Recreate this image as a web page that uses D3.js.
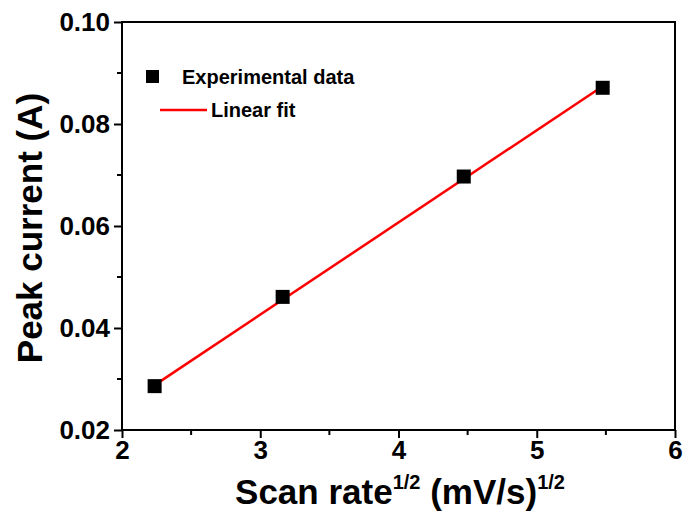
<!DOCTYPE html>
<html lang="en">
<head>
    <meta charset="UTF-8">
    <title>Peak current vs scan rate</title>
    <script src="https://d3js.org/d3.v7.min.js"></script>
    <style type="text/css">
        body { margin: 0; background: #fff; }
        text { font-family: "Liberation Sans", Arial, sans-serif; font-weight: bold; }
    </style>
</head>
<body>
<script type="text/javascript">

// Data
var scanRateSqrt = [2.236, 3.162, 4.472, 5.477];
var peakCurrent = [0.0286, 0.0461, 0.0697, 0.0871];
var fitX = [2.236, 5.477];
var fitY = [0.0288, 0.0874];
var xTicks = [2, 3, 4, 5, 6];
var yTicks = [0.02, 0.04, 0.06, 0.08, 0.10];
var xMinor = [2.5, 3.5, 4.5, 5.5];
var yMinor = [0.03, 0.05, 0.07, 0.09];

var w = 684, h = 517;
var padL = 122, padR = 675, padT = 22, padB = 430;

var svg = d3.select("body").append("svg")
    .attr("width", w)
    .attr("height", h);

var xScale = d3.scaleLinear().domain([2, 6]).range([padL, padR]);
var yScale = d3.scaleLinear().domain([0.02, 0.10]).range([padB, padT]);

// frame
svg.append("rect")
    .attr("x", padL).attr("y", padT)
    .attr("width", padR - padL).attr("height", padB - padT)
    .attr("fill", "none").attr("stroke", "#000").attr("stroke-width", 2);

// minor ticks
svg.append("g").selectAll("line").data(xMinor).enter().append("line")
    .attr("x1", function(d) { return xScale(d); })
    .attr("x2", function(d) { return xScale(d); })
    .attr("y1", padB).attr("y2", padB + 5)
    .attr("stroke", "#000").attr("stroke-width", 2);
svg.append("g").selectAll("line").data(yMinor).enter().append("line")
    .attr("y1", function(d) { return yScale(d); })
    .attr("y2", function(d) { return yScale(d); })
    .attr("x1", padL).attr("x2", padL - 5)
    .attr("stroke", "#000").attr("stroke-width", 2);

// axes
var xAxis = d3.axisBottom(xScale).tickValues(xTicks).tickSize(8).tickPadding(3)
    .tickFormat(d3.format("d"));
var yAxis = d3.axisLeft(yScale).tickValues(yTicks).tickSize(8).tickPadding(4)
    .tickFormat(d3.format(".2f"));

var gx = svg.append("g").attr("transform", "translate(0," + padB + ")").call(xAxis);
var gy = svg.append("g").attr("transform", "translate(" + padL + ",0)").call(yAxis);
[gx, gy].forEach(function(g) {
    g.select(".domain").remove();
    g.selectAll("line").attr("stroke", "#000").attr("stroke-width", 2);
    g.selectAll("text").attr("font-size", "26px").attr("fill", "#000");
});

// fit line
svg.append("line")
    .attr("x1", xScale(fitX[0])).attr("y1", yScale(fitY[0]))
    .attr("x2", xScale(fitX[1])).attr("y2", yScale(fitY[1]))
    .attr("stroke", "#ff0000").attr("stroke-width", 2.5);

// points
var sz = 14;
svg.selectAll("rect.pt")
    .data(scanRateSqrt)
    .enter()
    .append("rect")
    .attr("class", "pt")
    .attr("x", function(d) { return xScale(d) - sz / 2; })
    .attr("y", function(d, i) { return yScale(peakCurrent[i]) - sz / 2; })
    .attr("width", sz).attr("height", sz)
    .attr("fill", "#000");

// legend
svg.append("rect").attr("x", 146).attr("y", 70).attr("width", 13).attr("height", 13).attr("fill", "#000");
svg.append("text").attr("x", 182).attr("y", 84).attr("font-size", "20px").text("Experimental data");
svg.append("line").attr("x1", 160).attr("x2", 207).attr("y1", 110).attr("y2", 110)
    .attr("stroke", "#ff0000").attr("stroke-width", 2.5);
svg.append("text").attr("x", 211).attr("y", 117).attr("font-size", "20px").text("Linear fit");

// axis titles
var xt = svg.append("text").attr("x", 400).attr("y", 504).attr("text-anchor", "middle")
    .attr("font-size", "35px");
xt.append("tspan").text("Scan rate");
xt.append("tspan").attr("font-size", "20px").attr("dy", -15).text("1/2");
xt.append("tspan").attr("dy", 15).text(" (mV/s)");
xt.append("tspan").attr("font-size", "20px").attr("dy", -15).text("1/2");

svg.append("text")
    .attr("transform", "translate(42,228) rotate(-90)")
    .attr("text-anchor", "middle")
    .attr("font-size", "35px")
    .text("Peak current (A)");

</script>
</body>
</html>
